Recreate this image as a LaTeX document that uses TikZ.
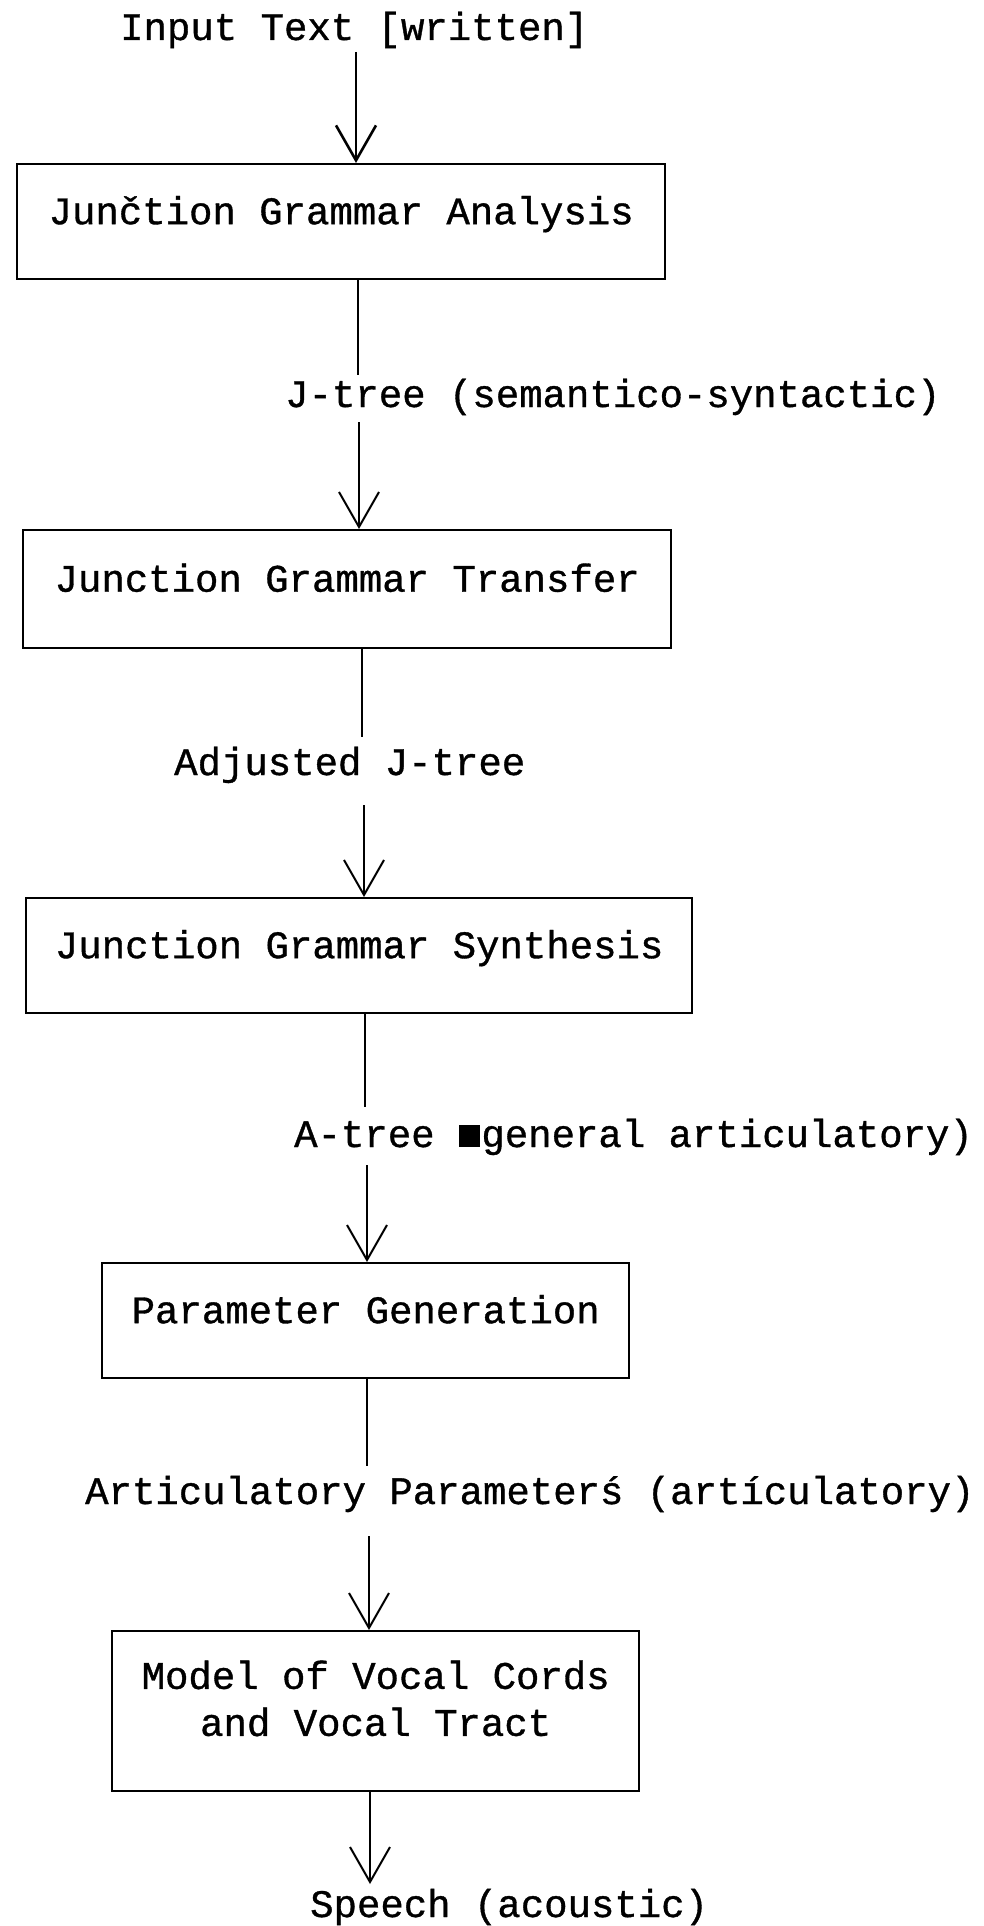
\documentclass[tikz,border=0pt]{standalone}
\usepackage{fontspec}
\setmainfont{Liberation Mono}[UprightFeatures={FakeBold=0.9}]
\usetikzlibrary{arrows.meta}

\tikzset{
  tt/.style={font=\fontsize{39}{47}\selectfont, inner sep=0pt},
  stagebox/.style={tt, draw, line width=2.4pt, anchor=north west,
    text height=30pt, text depth=25pt},
  flowline/.style={line width=2pt},
  flowarrow/.style={line width=2pt, -{Straight Barb[length=35pt,width=40pt]}},
  flowlabel/.style={tt, anchor=base west},
}

\begin{document}
\begin{tikzpicture}[x=1pt,y=-1pt]
  \useasboundingbox (0,0) rectangle (983,1926);
  \fill[white] (0,0) rectangle (983,1926);

  % stages of the pipeline
  \node[stagebox, minimum width=648pt, minimum height=115pt] (b1) at (16,163) {Junčtion Grammar Analysis};
  \node[stagebox, minimum width=648pt, minimum height=118pt] (b2) at (22,529) {Junction Grammar Transfer};
  \node[stagebox, minimum width=666pt, minimum height=115pt] (b3) at (25,897) {Junction Grammar Synthesis};
  \node[stagebox, minimum width=527pt, minimum height=115pt] (b4) at (101,1262) {Parameter Generation};
  \node[tt, draw, line width=2.4pt, anchor=north west, align=center,
        minimum width=527pt, minimum height=160pt] (b5) at (111,1630)
        {Model of Vocal Cords\\and Vocal Tract\rule[-26pt]{0pt}{26pt}};

  % data passed between the stages
  \node[flowlabel] (in)   at (120,40)   {Input Text [written]};
  \node[flowlabel] (lab1) at (285,407)  {J-tree (semantico-syntactic)};
  \node[flowlabel] (lab2) at (174,775)  {Adjusted J-tree};
  \node[flowlabel] (lab3) at (294,1147) {A-tree \makebox[0.6em][c]{\rule{21pt}{22pt}}general articulatory)};
  \node[flowlabel] (lab4) at (85,1504)  {Articulatory Parameterś (artículatory)};
  \node[flowlabel] (out)  at (310,1917) {Speech (acoustic)};

  % gap ends of the connectors around the labels
  \coordinate (a0) at (356,52);
  \coordinate (c1) at (358,375);  \coordinate (d1) at (359,422);
  \coordinate (c2) at (362,737);  \coordinate (d2) at (364,805);
  \coordinate (c3) at (365,1107); \coordinate (d3) at (367,1165);
  \coordinate (c4) at (367,1466); \coordinate (d4) at (369,1536);
  \coordinate (d5) at (370,1884);

  % connectors
  \draw[flowarrow, line width=2.6pt] (a0) -- (b1.north -| a0);
  \draw[flowline]  (b1.south -| c1) -- (c1);
  \draw[flowarrow] (d1) -- (b2.north -| d1);
  \draw[flowline]  (b2.south -| c2) -- (c2);
  \draw[flowarrow] (d2) -- (b3.north -| d2);
  \draw[flowline]  (b3.south -| c3) -- (c3);
  \draw[flowarrow] (d3) -- (b4.north -| d3);
  \draw[flowline]  (b4.south -| c4) -- (c4);
  \draw[flowarrow] (d4) -- (b5.north -| d4);
  \draw[flowarrow] (b5.south -| d5) -- (d5);
\end{tikzpicture}
\end{document}
